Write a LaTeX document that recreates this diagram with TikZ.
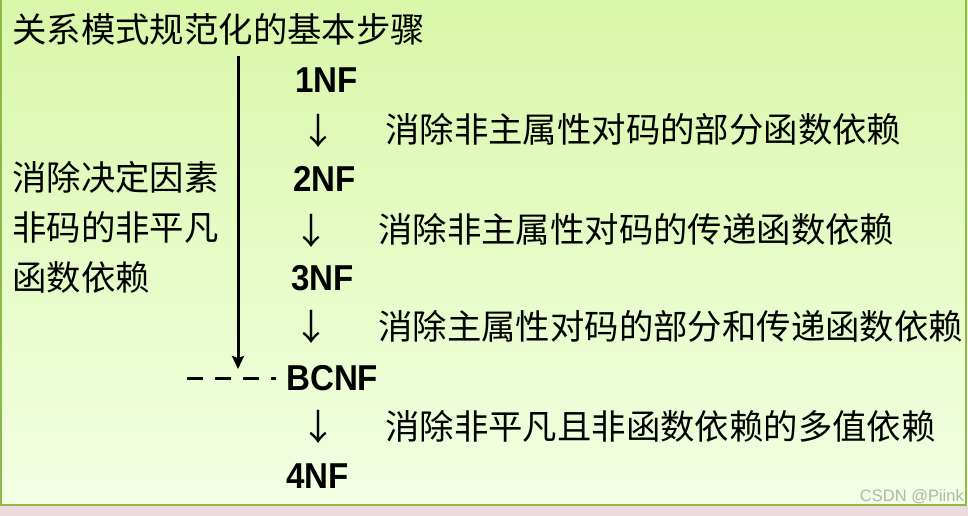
\documentclass[tikz,border=0pt]{standalone}
\usepackage{fontspec}
\usetikzlibrary{arrows.meta}
\newfontfamily\cjk{Noto Sans CJK SC}
\newfontfamily\arialf{Liberation Sans}
\definecolor{bgtop}{HTML}{D9F7A9}
\definecolor{bgbot}{HTML}{F3FFE3}
\definecolor{frame}{HTML}{8DB84A}
\definecolor{pinkband}{HTML}{EDDADC}
\definecolor{wm}{HTML}{B4B4B4}
\tikzset{
  cn/.style={anchor=west, inner sep=0pt, font=\cjk\fontsize{34.4}{40}\selectfont, text height=28.2pt, text depth=2.8pt},
  nf/.style={anchor=west, inner sep=0pt, font=\arialf\bfseries\fontsize{36}{40}\selectfont, xscale=0.92, text height=25.8pt, text depth=0pt},
  darr/.style={inner sep=0pt, font=\cjk\fontsize{36}{40}\selectfont, text height=28.2pt, text depth=2.8pt},
  thick line/.style={line width=3pt, black}
}
\begin{document}
\begin{tikzpicture}[x=1pt,y=-1pt]
\useasboundingbox (0,0) rectangle (968,516);
\shade[top color=bgtop, bottom color=bgbot] (0,0) rectangle (968,506);
\fill[pinkband] (0,506) rectangle (968,516);
\draw[frame, line width=2.5pt] (1,0) -- (1,505) -- (966,505) -- (966,0);

\node[cn] (title) at (12,30) {关系模式规范化的基本步骤};

\node[nf] (n1) at (295,80) {1NF};
\node[darr] (a1) at (318,132) {↓};
\node[cn] (t1) at (385,130) {消除非主属性对码的部分函数依赖};

\node[nf] (n2) at (293,179) {2NF};
\node[darr] (a2) at (311,232) {↓};
\node[cn] (t2) at (378,230) {消除非主属性对码的传递函数依赖};

\node[nf] (n3) at (291,278) {3NF};
\node[darr] (a3) at (311,328) {↓};
\node[cn] (t3) at (378,327) {消除主属性对码的部分和传递函数依赖};

\node[nf] (n4) at (286,378) {BCNF};
\node[darr] (a4) at (318,428) {↓};
\node[cn] (t4) at (385,427) {消除非平凡且非函数依赖的多值依赖};

\node[nf] (n5) at (286,476) {4NF};

\node[cn] (l1) at (12,178) {消除决定因素};
\node[cn] (l2) at (12,228) {非码的非平凡};
\node[cn] (l3) at (12,278) {函数依赖};

\coordinate (vtop) at (238,56);
\coordinate (vbot) at (238,369);
\draw[thick line, -{Stealth[length=13pt,width=12pt,inset=2pt]}] (vtop) -- (vbot);

\coordinate (dstart) at (187,378);
\coordinate (dend) at (276,378);
\draw[thick line, dash pattern=on 16pt off 12pt] (dstart) -- (dend);

\node[anchor=east, inner sep=0pt, text=wm, font=\arialf\fontsize{16.5}{18}\selectfont] (wmk) at (964,497) {CSDN @Piink};
\end{tikzpicture}
\end{document}
